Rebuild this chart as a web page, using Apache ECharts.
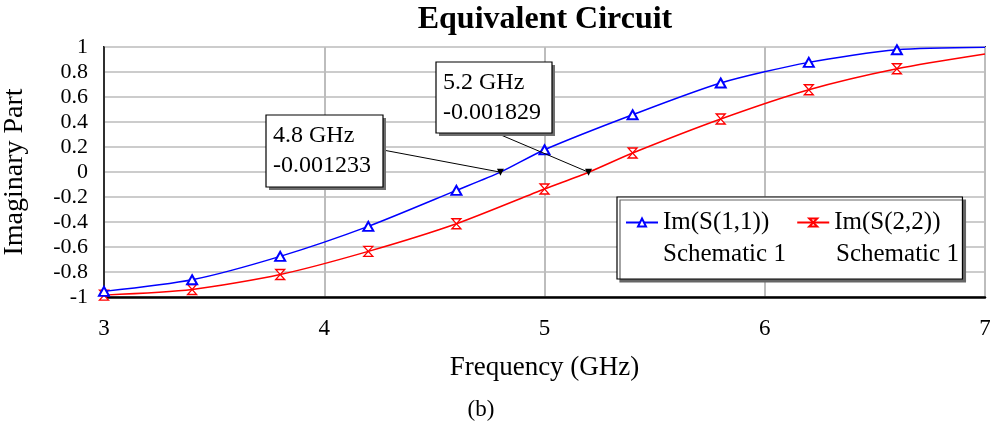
<!DOCTYPE html>
<html>
<head>
<meta charset="utf-8">
<script src="https://cdn.jsdelivr.net/npm/echarts@6/dist/echarts.min.js"></script>
<style>
  html, body { margin: 0; padding: 0; background: #ffffff; }
  #chart { width: 990px; height: 428px; }
</style>
</head>
<body>
<div id="chart"></div>
<script>
// Imaginary part of the reflection coefficients versus frequency (GHz)
const freqS11 = [3.0, 3.4, 3.8, 4.2, 4.6, 4.8, 5.0, 5.4, 5.8, 6.2, 6.6, 7.0];
const imS11   = [-0.955, -0.862, -0.675, -0.435, -0.147, -0.001233, 0.178, 0.458, 0.712, 0.877, 0.978, 0.998];

const freqS22 = [3.0, 3.4, 3.8, 4.2, 4.6, 5.0, 5.2, 5.4, 5.8, 6.2, 6.6, 7.0];
const imS22   = [-0.985, -0.94, -0.82, -0.635, -0.414, -0.136, -0.001829, 0.152, 0.424, 0.658, 0.826, 0.944];

// Frequencies that carry a series marker
const markerFreqs = [3.0, 3.4, 3.8, 4.2, 4.6, 5.0, 5.4, 5.8, 6.2, 6.6];

const seriesNames = ['Im(S(1,1))', 'Im(S(2,2))'];
const seriesSource = 'Schematic 1';

// Axis ranges
const xRange = { min: 3, max: 7, step: 1 };
const yRange = { min: -1, max: 1, step: 0.2 };

// Marked readouts (frequency in GHz, value)
const readoutFreqs  = [4.8, 5.2];
const readoutValues = [-0.001233, -0.001829];
const readoutSeries = [0, 1];

const SERIF = "'Liberation Serif', 'Times New Roman', serif";
const BLUE = '#0000ff';
const RED = '#ff0000';
const HOURGLASS = 'path://M0,0L10,0L0,10L10,10Z';

// Callout boxes: pixel offsets from the marked point, box size, leader start inside the box
const calloutLayout = [
  { dx: -234, dy: -57, w: 117, h: 72, lx: 117, ly: 35 },
  { dx: -153, dy: -110, w: 116, h: 71, lx: 65, ly: 73 }
];

function buildData(freqs, values) {
  return freqs.map((f, i) => {
    const item = { value: [f, values[i]] };
    if (markerFreqs.indexOf(f) < 0) item.symbol = 'none';
    return item;
  });
}

function readoutMarks(seriesIdx) {
  const data = [];
  readoutFreqs.forEach((f, i) => {
    if (readoutSeries[i] === seriesIdx) data.push({ coord: [f, readoutValues[i]] });
  });
  return {
    symbol: 'triangle',
    symbolRotate: 180,
    symbolSize: [7, 7],
    itemStyle: { color: '#000000' },
    label: { show: false },
    data: data,
    z: 20
  };
}

const chart = echarts.init(document.getElementById('chart'), null, { renderer: 'canvas' });

const option = {
  backgroundColor: '#ffffff',
  animation: false,
  title: [
    {
      text: 'Equivalent Circuit',
      left: 545, top: 4, padding: 0, textAlign: 'center',
      textStyle: { fontFamily: SERIF, fontSize: 32, fontWeight: 'bold', color: '#000' }
    },
    {
      text: '(b)',
      left: 481, top: 398, padding: 0, textAlign: 'center',
      textStyle: { fontFamily: SERIF, fontSize: 23, fontWeight: 'normal', color: '#000' }
    }
  ],
  grid: {
    left: 104, right: 5, top: 47, bottom: 131,
    outerBoundsMode: 'none',
    containLabel: false,
    show: true, borderColor: '#333', borderWidth: 2, backgroundColor: 'transparent'
  },
  xAxis: {
    type: 'value',
    min: xRange.min, max: xRange.max, interval: xRange.step,
    name: 'Frequency (GHz)',
    nameLocation: 'middle', nameGap: 57,
    nameTextStyle: { fontFamily: SERIF, fontSize: 27, color: '#000' },
    axisLine: { show: true, onZero: false, lineStyle: { color: '#000', width: 2.5 } },
    axisTick: { show: false },
    axisLabel: { margin: 20, fontFamily: SERIF, fontSize: 23, color: '#000' },
    splitLine: { show: true, lineStyle: { color: '#bdbdbd', width: 2 } }
  },
  yAxis: {
    type: 'value',
    min: yRange.min, max: yRange.max, interval: yRange.step,
    name: 'Imaginary Part',
    nameLocation: 'middle', nameGap: 75, nameRotate: 90,
    nameTextStyle: { fontFamily: SERIF, fontSize: 28, color: '#000' },
    axisLine: { show: true, onZero: false, lineStyle: { color: '#000', width: 1.5 } },
    axisTick: { show: false },
    axisLabel: {
      margin: 16, fontFamily: SERIF, fontSize: 22, color: '#000',
      padding: [5, 0, 0, 0]
    },
    splitLine: { show: true, lineStyle: { color: '#cccccc', width: 2 } }
  },
  legend: {
    left: 617, top: 197,
    orient: 'horizontal',
    padding: [13, 22, 44, 8],
    itemGap: 27, itemWidth: 32, itemHeight: 10,
    backgroundColor: '#ffffff', borderColor: '#000', borderWidth: 1.2,
    shadowColor: '#666', shadowOffsetX: 3, shadowOffsetY: 3, shadowBlur: 0,
    textStyle: { fontFamily: SERIF, fontSize: 25, color: '#000' },
    data: seriesNames
  },
  series: [
    {
      name: seriesNames[0],
      type: 'line',
      data: buildData(freqS11, imS11),
      smooth: 0.25,
      color: BLUE,
      symbol: 'emptyTriangle', symbolSize: [10, 9], showSymbol: true,
      lineStyle: { color: BLUE, width: 1.5 },
      itemStyle: { color: BLUE, borderColor: BLUE, borderWidth: 1.3 },
      markPoint: readoutMarks(0),
      z: 3
    },
    {
      name: seriesNames[1],
      type: 'line',
      data: buildData(freqS22, imS22),
      smooth: 0.25,
      color: RED,
      symbol: HOURGLASS, symbolSize: [9, 10], showSymbol: true,
      lineStyle: { color: RED, width: 1.5 },
      itemStyle: { color: '#ffffff', borderColor: RED, borderWidth: 1.3 },
      markPoint: readoutMarks(1),
      z: 2
    }
  ]
};

chart.setOption(option);

// Callout boxes with leader lines, and the source line under each legend entry
function drawOverlays() {
  const elements = [];
  readoutFreqs.forEach((f, i) => {
    const p = chart.convertToPixel({ gridIndex: 0 }, [f, readoutValues[i]]);
    const c = calloutLayout[i];
    const bx = Math.round(p[0] + c.dx), by = Math.round(p[1] + c.dy);
    elements.push({
      type: 'line', z: 50,
      shape: { x1: bx + c.lx, y1: by + c.ly, x2: p[0], y2: p[1] },
      style: { stroke: '#000', lineWidth: 1 }
    });
    elements.push({
      type: 'rect', z: 51,
      shape: { x: bx + 3, y: by + 3, width: c.w, height: c.h },
      style: { fill: '#6e6e6e' }
    });
    elements.push({
      type: 'rect', z: 52,
      shape: { x: bx, y: by, width: c.w, height: c.h },
      style: { fill: '#ffffff', stroke: '#000', lineWidth: 1.2 }
    });
    elements.push({
      type: 'text', z: 53, x: bx + 7, y: by + 6,
      style: {
        text: f.toFixed(1) + ' GHz\n' + readoutValues[i].toFixed(6),
        font: '24px ' + SERIF, lineHeight: 30, fill: '#000',
        verticalAlign: 'top', align: 'left'
      }
    });
  });
  [663, 836].forEach((x) => {
    elements.push({
      type: 'text', z: 60, x: x, y: 254,
      style: { text: seriesSource, font: '25px ' + SERIF, fill: '#000', verticalAlign: 'middle', align: 'left' }
    });
  });
  chart.setOption({ graphic: elements });
}
drawOverlays();
</script>
</body>
</html>
